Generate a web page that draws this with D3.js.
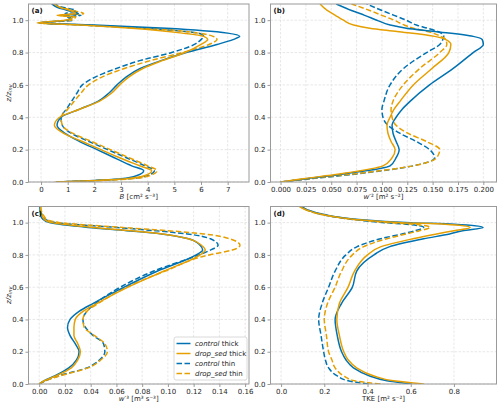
<!DOCTYPE html>
<html lang="en">
<head>
  <meta charset="utf-8" />
  <title>Turbulence profiles</title>
  <script src="https://d3js.org/d3.v7.min.js"></script>
  <style>
    body { margin: 0; background: #fff; }
    svg { font-family: "DejaVu Sans", sans-serif; }
  </style>
</head>
<body>
<div id="chart"></div>
<script>
// ---- data ----
const runNames = ["control", "drop_sed", "control", "drop_sed"];
const runKinds = ["thick", "thick", "thin", "thin"];

// (a) buoyancy flux B
const zA = [0, 0.01, 0.02, 0.04, 0.07, 0.1, 0.15, 0.2, 0.25, 0.3, 0.35, 0.4, 0.45, 0.5, 0.55, 0.6,
  0.65, 0.7, 0.75, 0.8, 0.85, 0.88, 0.9, 0.92, 0.95, 0.97, 0.983, 1.0, 1.02, 1.03, 1.04, 1.06, 1.08, 1.1];
const bControlThick = [0.6, 2.0, 3.0, 3.6, 3.85, 3.4, 2.75, 2.1, 1.45, 0.9, 0.6, 0.75, 1.45, 2.15, 2.55, 2.85,
  3.2, 3.7, 4.5, 5.45, 6.6, 7.2, 7.45, 7.0, 4.7, 2.0, -0.1, 1.0, 1.1, 0.8, 1.4, 1.0, 0.6, 0.4];
const bDropThick = [0.55, 2.1, 3.2, 3.9, 4.15, 3.7, 2.95, 2.25, 1.55, 0.85, 0.5, 0.7, 1.45, 2.2, 2.65, 2.95,
  3.3, 3.8, 4.55, 5.4, 6.0, 6.25, 6.1, 5.3, 3.4, 1.5, -0.15, 0.9, 1.2, 0.6, 1.3, 1.1, 0.7, 0.5];
const bControlThin = [0.55, 2.2, 3.3, 4.0, 4.25, 3.9, 3.2, 2.5, 1.8, 1.15, 0.8, 0.75, 0.95, 1.15, 1.35, 1.55,
  2.05, 2.8, 3.7, 4.9, 5.75, 6.0, 6.1, 5.9, 3.8, 1.5, -0.05, 1.2, 1.0, 1.5, 0.9, 1.3, 0.8, 0.5];
const bDropThin = [0.6, 2.3, 3.4, 4.1, 4.35, 4.0, 3.3, 2.6, 1.9, 1.2, 0.8, 0.75, 1.0, 1.25, 1.5, 1.78,
  2.3, 3.1, 4.1, 5.3, 6.3, 6.6, 6.45, 5.9, 4.0, 1.6, 0.0, 1.1, 1.3, 0.7, 1.6, 1.2, 0.7, 0.45];

// (b) vertical velocity variance w'^2
const zB = [0, 0.02, 0.05, 0.1, 0.15, 0.2, 0.25, 0.3, 0.35, 0.4, 0.45, 0.5, 0.6, 0.7, 0.8, 0.85,
  0.88, 0.9, 0.93, 0.95, 0.97, 1.0, 1.03, 1.06, 1.1];
const w2ControlThick = [0, 0.025, 0.062, 0.108, 0.114, 0.117, 0.114, 0.111, 0.110, 0.114, 0.120, 0.128,
  0.147, 0.170, 0.190, 0.200, 0.199, 0.190, 0.152, 0.124, 0.108, 0.095, 0.083, 0.070, 0.055];
const w2DropThick = [0, 0.022, 0.058, 0.101, 0.110, 0.113, 0.109, 0.106, 0.105, 0.108, 0.112, 0.118,
  0.131, 0.149, 0.166, 0.168, 0.163, 0.152, 0.115, 0.088, 0.072, 0.062, 0.054, 0.046, 0.039];
const w2ControlThin = [0, 0.030, 0.075, 0.131, 0.152, 0.147, 0.134, 0.118, 0.106, 0.101, 0.100, 0.102,
  0.108, 0.121, 0.144, 0.157, 0.160, 0.161, 0.155, 0.145, 0.134, 0.124, 0.112, 0.100, 0.085];
const w2DropThin = [0, 0.028, 0.072, 0.131, 0.154, 0.157, 0.144, 0.126, 0.114, 0.110, 0.109, 0.111,
  0.121, 0.137, 0.157, 0.164, 0.163, 0.158, 0.145, 0.131, 0.122, 0.112, 0.100, 0.088, 0.070];

// (c) third moment w'^3
const zC = [0, 0.02, 0.05, 0.1, 0.15, 0.2, 0.25, 0.3, 0.35, 0.4, 0.45, 0.5, 0.6, 0.7, 0.8, 0.83,
  0.86, 0.9, 0.93, 0.95, 0.97, 1.0, 1.02, 1.05, 1.1];
const w3ControlThick = [0, 0.004, 0.012, 0.023, 0.029, 0.031, 0.028, 0.024, 0.022, 0.024, 0.031, 0.042,
  0.066, 0.092, 0.122, 0.127, 0.125, 0.116, 0.095, 0.068, 0.038, 0.008, 0.003, 0.001, 0.0005];
const w3DropThick = [0, 0.004, 0.013, 0.025, 0.030, 0.032, 0.030, 0.027, 0.027, 0.028, 0.034, 0.045,
  0.069, 0.097, 0.125, 0.129, 0.126, 0.116, 0.096, 0.072, 0.042, 0.010, 0.004, 0.002, 0.001];
const w3ControlThin = [0, 0.005, 0.015, 0.037, 0.047, 0.051, 0.050, 0.042, 0.036, 0.034, 0.037, 0.044,
  0.063, 0.089, 0.124, 0.133, 0.139, 0.133, 0.115, 0.090, 0.060, 0.013, 0.005, 0.002, 0.001];
const w3DropThin = [0, 0.005, 0.016, 0.038, 0.048, 0.053, 0.051, 0.043, 0.035, 0.034, 0.037, 0.046,
  0.068, 0.098, 0.132, 0.150, 0.156, 0.148, 0.128, 0.100, 0.065, 0.016, 0.006, 0.003, 0.001];

// (d) turbulent kinetic energy
const zD = [0, 0.02, 0.05, 0.1, 0.15, 0.2, 0.3, 0.4, 0.5, 0.6, 0.7, 0.8, 0.85, 0.9, 0.93, 0.95,
  0.97, 0.99, 1.0, 1.02, 1.05, 1.08, 1.1];
const tkeControlThick = [0.605, 0.49, 0.41, 0.335, 0.30, 0.28, 0.26, 0.25, 0.28, 0.33, 0.35, 0.43,
  0.50, 0.66, 0.78, 0.84, 0.935, 0.80, 0.60, 0.36, 0.20, 0.12, 0.09];
const tkeDropThick = [0.66, 0.52, 0.43, 0.35, 0.31, 0.29, 0.27, 0.258, 0.27, 0.31, 0.34, 0.40,
  0.46, 0.61, 0.72, 0.80, 0.875, 0.76, 0.56, 0.34, 0.19, 0.115, 0.085];
const tkeControlThin = [0.405, 0.31, 0.26, 0.22, 0.205, 0.197, 0.185, 0.174, 0.19, 0.22, 0.25, 0.30,
  0.35, 0.46, 0.56, 0.62, 0.66, 0.58, 0.48, 0.33, 0.19, 0.12, 0.095];
const tkeDropThin = [0.46, 0.34, 0.29, 0.25, 0.235, 0.22, 0.21, 0.20, 0.215, 0.25, 0.28, 0.33,
  0.38, 0.49, 0.58, 0.64, 0.69, 0.61, 0.50, 0.34, 0.19, 0.115, 0.09];

const xTicksA = d3.range(0, 8, 1);
const xTicksB = d3.range(0, 0.2001, 0.025);
const xTicksC = d3.range(0, 0.1601, 0.02);
const xTicksD = d3.range(0, 0.801, 0.2);
const yTicks = d3.range(0, 1.001, 0.2);

// ---- layout ----
const W = 500, H = 407;
const colors = ["#0072b2", "#e69f00", "#0072b2", "#e69f00"];
const dashes = [null, null, "5.5,2.5", "5.5,2.5"];

const panels = [
  { tag: "(a)", z: zA, series: [bControlThick, bDropThick, bControlThin, bDropThin],
    box: { l: 28.5, r: 249, t: 4, b: 182 }, xdom: [-0.47, 7.8], ticks: xTicksA, fmt: d3.format("d"),
    ylab: true, xvar: "B", xrest: " [cm\u00b2 s\u207b\u00b3]" },
  { tag: "(b)", z: zB, series: [w2ControlThick, w2DropThick, w2ControlThin, w2DropThin],
    box: { l: 270.5, r: 496.5, t: 4, b: 182 }, xdom: [-0.0099, 0.213], ticks: xTicksB, fmt: d3.format(".3f"),
    ylab: false, xvar: "w", xrest: "\u2032\u00b2 [m\u00b2 s\u207b\u00b2]" },
  { tag: "(c)", z: zC, series: [w3ControlThick, w3DropThick, w3ControlThin, w3DropThin],
    box: { l: 28.5, r: 249, t: 206.5, b: 384 }, xdom: [-0.0083, 0.163], ticks: xTicksC, fmt: d3.format(".2f"),
    ylab: true, legend: true, xvar: "w", xrest: "\u2032\u00b3 [m\u00b3 s\u207b\u00b3]" },
  { tag: "(d)", z: zD, series: [tkeControlThick, tkeDropThick, tkeControlThin, tkeDropThin],
    box: { l: 270.5, r: 496.5, t: 206.5, b: 384 }, xdom: [-0.049, 0.997], ticks: xTicksD, fmt: d3.format(".1f"),
    ylab: false, xvar: "", xrest: "TKE [m\u00b2 s\u207b\u00b2]" }
];

const svg = d3.select("#chart").append("svg")
  .attr("width", W).attr("height", H);

panels.forEach((p, k) => {
  const bx = p.box;
  const x = d3.scaleLinear().domain(p.xdom).range([bx.l, bx.r]);
  const y = d3.scaleLinear().domain([0, 1.1]).range([bx.b, bx.t]);
  const g = svg.append("g");

  // grid
  g.selectAll(".gx").data(p.ticks).enter().append("line")
    .attr("x1", d => x(d)).attr("x2", d => x(d))
    .attr("y1", bx.t).attr("y2", bx.b)
    .attr("stroke", "#d6d6d6").attr("stroke-width", 0.6).attr("stroke-dasharray", "2.5,1.5");
  g.selectAll(".gy").data(yTicks).enter().append("line")
    .attr("x1", bx.l).attr("x2", bx.r)
    .attr("y1", d => y(d)).attr("y2", d => y(d))
    .attr("stroke", "#d6d6d6").attr("stroke-width", 0.6).attr("stroke-dasharray", "2.5,1.5");

  // curves
  const clipId = "clip" + k;
  svg.append("clipPath").attr("id", clipId).append("rect")
    .attr("x", bx.l).attr("y", bx.t).attr("width", bx.r - bx.l).attr("height", bx.b - bx.t);
  const line = d3.line()
    .x(d => x(d[0])).y(d => y(d[1]))
    .curve(d3.curveMonotoneY);
  const cg = g.append("g").attr("clip-path", "url(#" + clipId + ")");
  // thin (dashed) first, thick (solid) on top
  [2, 3, 0, 1].forEach(s => {
    const pts = p.series[s].map((v, i) => [v, p.z[i]]);
    cg.append("path").datum(pts)
      .attr("d", line)
      .attr("fill", "none")
      .attr("stroke", colors[s])
      .attr("stroke-width", 1.5)
      .attr("stroke-dasharray", dashes[s]);
  });

  // axes
  const xAxis = g.append("g").attr("transform", `translate(0,${bx.b})`)
    .call(d3.axisBottom(x).tickValues(p.ticks).tickFormat(p.fmt).tickSize(3).tickPadding(2));
  const yAxis = g.append("g").attr("transform", `translate(${bx.l},0)`)
    .call(d3.axisLeft(y).tickValues(yTicks).tickFormat(d3.format(".1f")).tickSize(3).tickPadding(2));
  [xAxis, yAxis].forEach(a => {
    a.select(".domain").remove();
    a.selectAll("line").attr("stroke", "#555").attr("stroke-width", 0.6);
    a.selectAll("text").attr("font-size", 7).attr("fill", "#262626")
      .attr("font-family", "DejaVu Sans, sans-serif");
  });
  g.append("rect")
    .attr("x", bx.l).attr("y", bx.t).attr("width", bx.r - bx.l).attr("height", bx.b - bx.t)
    .attr("fill", "none").attr("stroke", "#9a9a9a").attr("stroke-width", 1);

  // panel tag
  g.append("text").attr("x", bx.l + 3).attr("y", bx.t + 9)
    .attr("font-size", 7).attr("font-weight", "bold").attr("fill", "#111").text(p.tag);

  // x label
  const xl = g.append("text")
    .attr("x", (bx.l + bx.r) / 2).attr("y", bx.b + 16.5)
    .attr("text-anchor", "middle").attr("font-size", 7).attr("fill", "#262626");
  if (p.xvar) xl.append("tspan").attr("font-style", "italic").text(p.xvar);
  xl.append("tspan").text(p.xrest);

  // y label
  if (p.ylab) {
    const yl = g.append("text")
      .attr("transform", `translate(11,${(bx.t + bx.b) / 2}) rotate(-90)`)
      .attr("text-anchor", "middle").attr("font-size", 7).attr("fill", "#262626")
      .attr("font-style", "italic");
    yl.append("tspan").text("z/z");
    yl.append("tspan").attr("font-size", 5).attr("baseline-shift", "-20%").text("inv");
  }

  // legend
  if (p.legend) {
    const lg = g.append("g");
    lg.append("rect").attr("x", 174).attr("y", 337).attr("width", 73).attr("height", 43)
      .attr("rx", 2).attr("fill", "#fff").attr("fill-opacity", 0.85)
      .attr("stroke", "#d0d0d0").attr("stroke-width", 0.8);
    runNames.forEach((nm, i) => {
      const yy = 343.5 + i * 10;
      lg.append("line").attr("x1", 176.5).attr("x2", 190.5).attr("y1", yy).attr("y2", yy)
        .attr("stroke", colors[i]).attr("stroke-width", 1.5).attr("stroke-dasharray", dashes[i]);
      const t = lg.append("text").attr("x", 195).attr("y", yy + 2.5)
        .attr("font-size", 7).attr("fill", "#262626");
      t.append("tspan").attr("font-style", "italic").text(nm);
      t.append("tspan").text(" " + runKinds[i]);
    });
  }
});
</script>
</body>
</html>
